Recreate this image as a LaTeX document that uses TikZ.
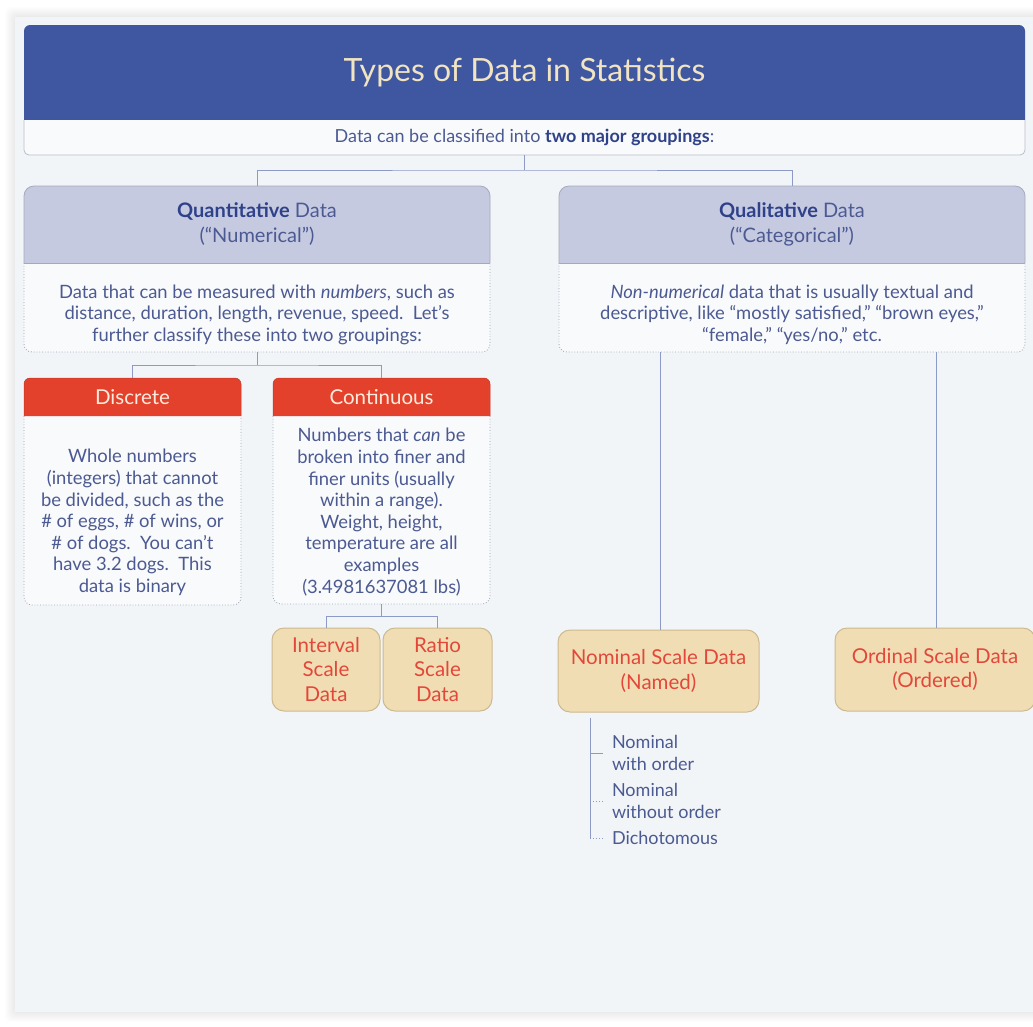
\documentclass[tikz,border=0pt]{standalone}
\usepackage{fontspec}
\setmainfont{Lato}
\usetikzlibrary{calc}
\definecolor{panelbg}{HTML}{F2F5F8}
\definecolor{titleblue}{HTML}{3F56A0}
\definecolor{cream}{HTML}{F0E4C3}
\definecolor{lightfill}{HTML}{F9FAFC}
\definecolor{subline}{HTML}{B9BDCB}
\definecolor{hdrfill}{HTML}{C6CAE1}
\definecolor{hdrline}{HTML}{A6A9BA}
\definecolor{dotline}{HTML}{9CA2B6}
\definecolor{redhdr}{HTML}{E4412C}
\definecolor{redtxt}{HTML}{FCEBDD}
\definecolor{tanfill}{HTML}{F1DDB4}
\definecolor{tanline}{HTML}{CDB98F}
\definecolor{tantext}{HTML}{E2483A}
\definecolor{textblue}{HTML}{4C5A92}
\definecolor{boldblue}{HTML}{2F4289}
\definecolor{connc}{HTML}{8D9AC6}
\pgfdeclarelayer{back}
\pgfdeclarelayer{boxes}
\pgfsetlayers{back,boxes,main}
\tikzset{
  every node/.style={inner sep=0pt, outer sep=0pt},
  boxnode/.style={draw=none, rectangle},
  hdrtext/.style={boxnode, align=center, text=textblue, font=\fontsize{20}{25}\selectfont},
  bodytext/.style={align=center, text=textblue, font=\fontsize{18.4}{21.6}\selectfont},
  redtext/.style={boxnode, align=center, text=redtxt, font=\fontsize{20.5}{24}\selectfont},
  tanbox/.style={rectangle, rounded corners=12pt, fill=tanfill, draw=tanline, line width=1pt,
     align=center, text=tantext, font=\fontsize{20.5}{24.5}\selectfont},
  itemtext/.style={align=left, anchor=west, text=textblue, font=\fontsize{18}{22}\selectfont},
  conn/.style={draw=connc, line width=1pt},
  hdrshape/.style={fill=hdrfill, draw=hdrline, line width=0.8pt, rounded corners=10pt},
  bodyshape/.style={fill=lightfill, draw=dotline, line width=0.8pt, dotted, rounded corners=8pt},
  redshape/.style={fill=redhdr, draw=redhdr!85!black, line width=0.5pt, rounded corners=6pt},
}
\newcommand{\bb}[1]{\textcolor{boldblue}{\bfseries #1}}
\begin{document}
\begin{tikzpicture}[x=1pt,y=-1pt]
\useasboundingbox (0,0) rectangle (1033,1026);
\clip (0,0) rectangle (1033,1026);

% ---- nodes (text) ----
\node[boxnode, minimum width=1001, minimum height=95, text=cream,
      font=\fontsize{32}{38}\selectfont] (title) at (524.5,72.5) {Types of Data in Statistics};
\node[boxnode, minimum width=1001, minimum height=35, text=textblue,
      font=\fontsize{18}{20}\selectfont] (sub) at (524.5,137.5)
      {Data can be classified into \bb{two major groupings}:};

\node[hdrtext, minimum width=466, minimum height=77] (quanth) at (257,224.5)
      {\bb{Quantitative} Data\\(“Numerical”)};
\node[boxnode, minimum width=466, minimum height=89] (quantb) at (257,307.5) {};
\node[bodytext] (quantbt) at ($(quantb.center)+(0,7)$)
      {Data that can be measured with \textit{numbers}, such as\\distance, duration, length, revenue, speed.\ \ Let’s\\further classify these into two groupings:};

\node[hdrtext, minimum width=466, minimum height=77] (qualh) at (792,224.5)
      {\bb{Qualitative} Data\\(“Categorical”)};
\node[boxnode, minimum width=466, minimum height=89] (qualb) at (792,307.5) {};
\node[bodytext] (qualbt) at ($(qualb.center)+(0,7)$)
      {\textit{Non-numerical} data that is usually textual and\\descriptive, like “mostly satisfied,” “brown eyes,”\\“female,” “yes/no,” etc.};

\node[redtext, minimum width=217, minimum height=38] (disch) at (132.5,397) {Discrete};
\node[boxnode, minimum width=217, minimum height=189] (discb) at (132.5,510.5) {};
\node[bodytext] (discbt) at ($(discb.center)+(0,12)$)
      {Whole numbers\\(integers) that cannot\\be divided, such as the\\\# of eggs, \# of wins, or\\\# of dogs.\ \ You can’t\\have 3.2 dogs.\ \ This\\data is binary};

\node[redtext, minimum width=217, minimum height=38] (conth) at (381.5,397) {Continuous};
\node[boxnode, minimum width=217, minimum height=188] (contb) at (381.5,510) {};
\node[bodytext] (contbt) at ($(contb.center)+(0,2)$)
      {Numbers that \textit{can} be\\broken into finer and\\finer units (usually\\within a range).\\Weight, height,\\temperature are all\\examples\\(3.4981637081 lbs)};

\node[tanbox, minimum width=108, minimum height=83] (interval) at (326,669.5) {Interval\\Scale\\Data};
\node[tanbox, minimum width=109, minimum height=83] (ratio) at (437.5,669.5) {Ratio\\Scale\\Data};
\node[tanbox, minimum width=201, minimum height=82] (nominal) at (658.5,671) {Nominal Scale Data\\(Named)};
\node[tanbox, minimum width=200, minimum height=83] (ordinal) at (935,669.5) {Ordinal Scale Data\\(Ordered)};

\node[itemtext] (it1) at (612,753) {Nominal\\with order};
\node[itemtext] (it2) at (612,801) {Nominal\\without order};
\node[itemtext] (it3) at (612,838) {Dichotomous};

% ---- background ----
\begin{pgfonlayer}{back}
  \fill[white] (0,0) rectangle (1033,1026);
  \foreach \i in {1,...,10}{
    \fill[black, opacity=0.008, rounded corners=6pt] (15-\i,17-\i) rectangle (1045+\i,1012+\i);
  }
  \fill[panelbg] (15,17) rectangle (1045,1012);
\end{pgfonlayer}

% ---- box shapes ----
\begin{pgfonlayer}{boxes}
  \path[fill=titleblue, rounded corners=6pt] (title.south west) -- (title.north west) -- (title.north east) -- (title.south east);
  \path[fill=lightfill, draw=subline, line width=0.8pt, rounded corners=5pt]
     (sub.north west) -- (sub.south west) -- (sub.south east) -- (sub.north east);

  \path[bodyshape] (quantb.north west) -- (quantb.south west) -- (quantb.south east) -- (quantb.north east);
  \path[hdrshape] (quanth.south west) -- (quanth.north west) -- (quanth.north east) -- (quanth.south east);
  \draw[hdrline, line width=0.8pt] (quanth.south west) -- (quanth.south east);

  \path[bodyshape] (qualb.north west) -- (qualb.south west) -- (qualb.south east) -- (qualb.north east);
  \path[hdrshape] (qualh.south west) -- (qualh.north west) -- (qualh.north east) -- (qualh.south east);
  \draw[hdrline, line width=0.8pt] (qualh.south west) -- (qualh.south east);

  \path[bodyshape] (discb.north west) -- (discb.south west) -- (discb.south east) -- (discb.north east);
  \path[redshape] (disch.south west) -- (disch.north west) -- (disch.north east) -- (disch.south east);

  \path[bodyshape] (contb.north west) -- (contb.south west) -- (contb.south east) -- (contb.north east);
  \path[redshape] (conth.south west) -- (conth.north west) -- (conth.north east) -- (conth.south east);
\end{pgfonlayer}

% ---- connectors ----
\coordinate (j1) at (524.5,170);
\draw[conn] (sub.south) -- (j1);
\draw[conn] (quanth.north) |- (j1) -| (qualh.north);

\coordinate (j2) at (257,365);
\draw[conn] (quantb.south) -- (j2);
\draw[conn] (disch.north) |- (j2) -| (conth.north);

\coordinate (j3) at (381.5,616);
\draw[conn] (contb.south) -- (j3);
\draw[conn] (interval.north) |- (j3) -| (ratio.north);

\draw[conn] ($(nominal.north)+(1.5,0)$) -- ($(nominal.north |- qualb.south)+(1.5,0)$);
\draw[conn] ($(ordinal.north)+(1,0)$) -- ($(ordinal.north |- qualb.south)+(1,0)$);

\coordinate (nl0) at ($(nominal.south west)+(32,6)$);
\draw[conn] (nl0) -- (nl0 |- it3.west);
\draw[conn] (nl0 |- it1.west) -- ($(it1.west)+(-9,0)$);
\draw[conn, dotted] (nl0 |- it2.west) -- ($(it2.west)+(-9,0)$);
\draw[conn, dotted] (nl0 |- it3.west) -- ($(it3.west)+(-9,0)$);
\end{tikzpicture}
\end{document}
